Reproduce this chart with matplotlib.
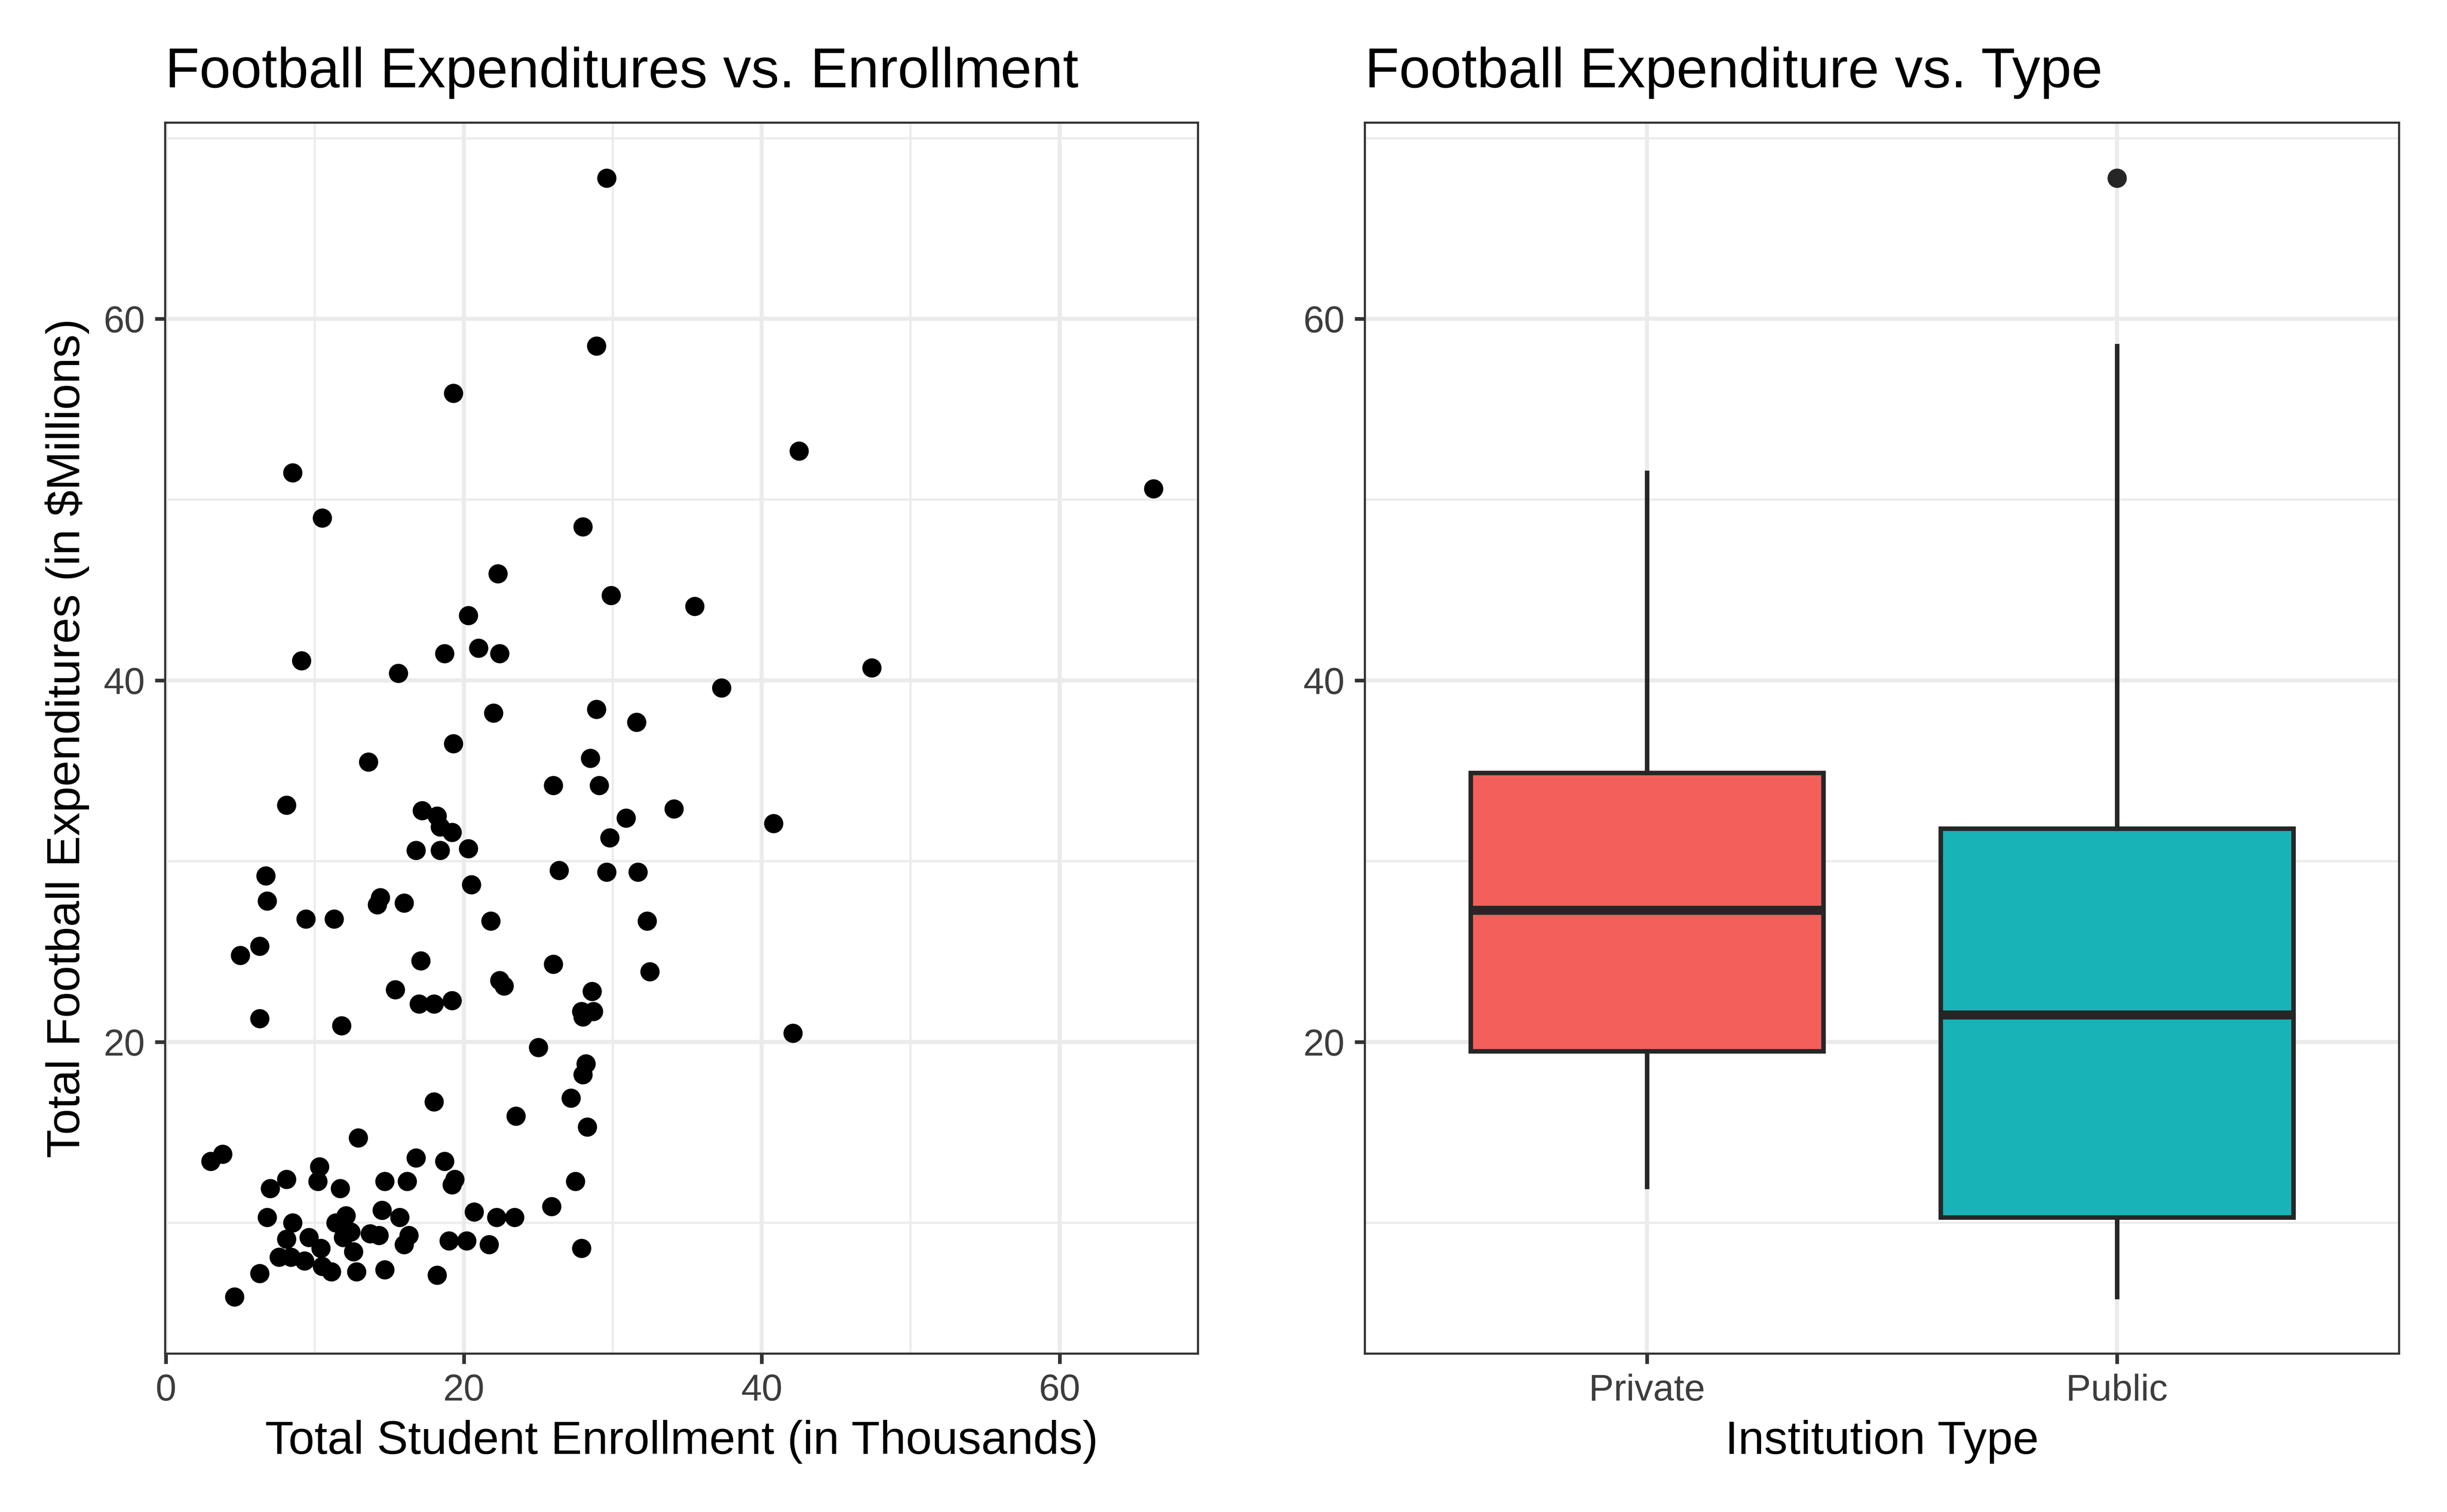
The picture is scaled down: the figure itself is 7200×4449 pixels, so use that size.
import matplotlib
matplotlib.use("Agg")
import matplotlib.pyplot as plt
from matplotlib.ticker import MultipleLocator

plt.rcParams['font.family'] = ['Liberation Sans', 'DejaVu Sans']

# scatter data: enrollment (thousands) vs football expenditure ($ millions)
enrollment = [29.6, 28.9, 19.3, 8.5, 42.5, 66.3, 10.5, 28.0, 22.3, 29.9,
              20.3, 35.5, 21.0, 18.7, 22.4, 9.1, 15.6, 47.4, 37.3, 22.0,
              28.9, 31.6, 13.6, 28.5, 19.3, 26.0, 29.1, 34.1, 8.1, 40.8,
              30.9, 17.2, 18.2, 18.4, 19.2, 29.8, 16.8, 18.4, 20.3, 26.4,
              29.6, 31.7, 6.7, 20.5, 6.8, 14.2, 14.4, 16.0, 9.4, 11.3,
              21.8, 32.3, 5.0, 6.3, 17.1, 26.0, 32.5, 22.4, 22.7, 15.4,
              28.6, 17.0, 18.0, 19.2, 27.9, 28.0, 28.7, 6.3, 11.8, 42.1,
              25.0, 28.2, 28.0, 27.2, 18.0, 23.5, 28.3, 12.9, 3.0, 3.8,
              10.3, 16.8, 18.7, 7.0, 8.1, 10.2, 11.7, 14.7, 16.2, 19.2,
              19.4, 27.5, 6.8, 8.5, 11.4, 12.1, 14.5, 15.7, 20.7, 22.2,
              23.4, 25.9, 12.4, 8.1, 9.6, 11.9, 13.7, 14.3, 16.3, 16.0,
              19.0, 20.2, 21.7, 27.9, 7.6, 8.4, 10.4, 12.6, 9.3, 10.5,
              11.1, 12.8, 14.7, 6.3, 18.2, 4.6]
expenditure = [67.8, 58.5, 55.9, 51.5, 52.7, 50.6, 49.0, 48.5, 45.9, 44.7,
               43.6, 44.1, 41.8, 41.5, 41.5, 41.1, 40.4, 40.7, 39.6, 38.2,
               38.4, 37.7, 35.5, 35.7, 36.5, 34.2, 34.2, 32.9, 33.1, 32.1,
               32.4, 32.8, 32.5, 31.9, 31.6, 31.3, 30.6, 30.6, 30.7, 29.5,
               29.4, 29.4, 29.2, 28.7, 27.8, 27.6, 28.0, 27.7, 26.8, 26.8,
               26.7, 26.7, 24.8, 25.3, 24.5, 24.3, 23.9, 23.4, 23.1, 22.9,
               22.8, 22.1, 22.1, 22.3, 21.7, 21.4, 21.7, 21.3, 20.9, 20.5,
               19.7, 18.8, 18.2, 16.9, 16.7, 15.9, 15.3, 14.7, 13.4, 13.8,
               13.1, 13.6, 13.4, 11.9, 12.4, 12.3, 11.9, 12.3, 12.3, 12.1,
               12.4, 12.3, 10.3, 10.0, 10.0, 10.4, 10.7, 10.3, 10.6, 10.3,
               10.3, 10.9, 9.5, 9.1, 9.2, 9.2, 9.4, 9.3, 9.3, 8.8,
               9.0, 9.0, 8.8, 8.6, 8.1, 8.1, 8.6, 8.4, 7.9, 7.6,
               7.3, 7.3, 7.4, 7.2, 7.1, 5.9]

# boxplot summaries by institution type
types = ["Private", "Public"]
box_low = [12.0, 5.9]
box_q1 = [19.5, 10.3]
box_med = [27.3, 21.5]
box_q3 = [34.9, 31.8]
box_high = [51.5, 58.5]
box_outliers = [[], [67.8]]
box_colors = ["#F35F5B", "#18B3B7"]

GRID = "#EBEBEB"
DARK = "#333333"
TICKTXT = "#3D3D3D"


def style(ax):
    ax.set_axisbelow(True)
    for s in ax.spines.values():
        s.set_color(DARK)
        s.set_linewidth(0.75)
    ax.tick_params(axis='both', which='major', length=3.6, width=1.3,
                   color=DARK, labelcolor=TICKTXT, labelsize=13.2, pad=3.5)
    ax.tick_params(axis='both', which='minor', length=0)
    ax.grid(which='major', color=GRID, linewidth=1.45)
    ax.grid(which='minor', color=GRID, linewidth=0.75)


fig = plt.figure(figsize=(12, 7.415), dpi=600)
ax1 = fig.add_axes([0.0675, 0.1047, 0.4221, 0.8142])
ax2 = fig.add_axes([0.5578, 0.1047, 0.4226, 0.8142])

# left: scatter
ax1.scatter(enrollment, expenditure, s=46, color='black', linewidths=0, zorder=3)
ax1.set_xlim(-0.05, 69.3)
ax1.set_ylim(2.76, 70.86)
ax1.xaxis.set_major_locator(MultipleLocator(20))
ax1.xaxis.set_minor_locator(MultipleLocator(10))
ax1.yaxis.set_major_locator(MultipleLocator(20))
ax1.yaxis.set_minor_locator(MultipleLocator(10))
style(ax1)
ax1.set_yticks([20, 40, 60])
ax1.set_title("Football Expenditures vs. Enrollment", loc='left',
              fontsize=19.8, pad=12.5)
ax1.set_xlabel("Total Student Enrollment (in Thousands)", fontsize=16.5, labelpad=4)
ax1.set_ylabel(r"Total Football Expenditures (in \$Millions)", fontsize=16.5, labelpad=5)

# right: boxplot
stats = []
for i, t in enumerate(types):
    stats.append({"label": t, "whislo": box_low[i], "q1": box_q1[i],
                  "med": box_med[i], "q3": box_q3[i], "whishi": box_high[i],
                  "fliers": box_outliers[i]})
bp = ax2.bxp(stats, positions=[1, 2], widths=0.75, patch_artist=True,
             showcaps=False,
             boxprops=dict(edgecolor="#262626", linewidth=1.6),
             whiskerprops=dict(color="#262626", linewidth=1.6),
             medianprops=dict(color="#262626", linewidth=3.2, solid_capstyle='butt'),
             flierprops=dict(marker='o', markerfacecolor="#262626",
                             markeredgecolor="none", markersize=6.8),
             zorder=3)
for patch, c in zip(bp['boxes'], box_colors):
    patch.set_facecolor(c)
ax2.set_xlim(0.4, 2.6)
ax2.set_ylim(2.76, 70.86)
ax2.yaxis.set_major_locator(MultipleLocator(20))
ax2.yaxis.set_minor_locator(MultipleLocator(10))
style(ax2)
ax2.set_yticks([20, 40, 60])
ax2.set_xticks([1, 2])
ax2.set_xticklabels(types)
ax2.set_title("Football Expenditure vs. Type", loc='left', fontsize=19.8, pad=12.5)
ax2.set_xlabel("Institution Type", fontsize=16.5, labelpad=4)

fig.savefig("out.png", dpi=600, facecolor='white')
